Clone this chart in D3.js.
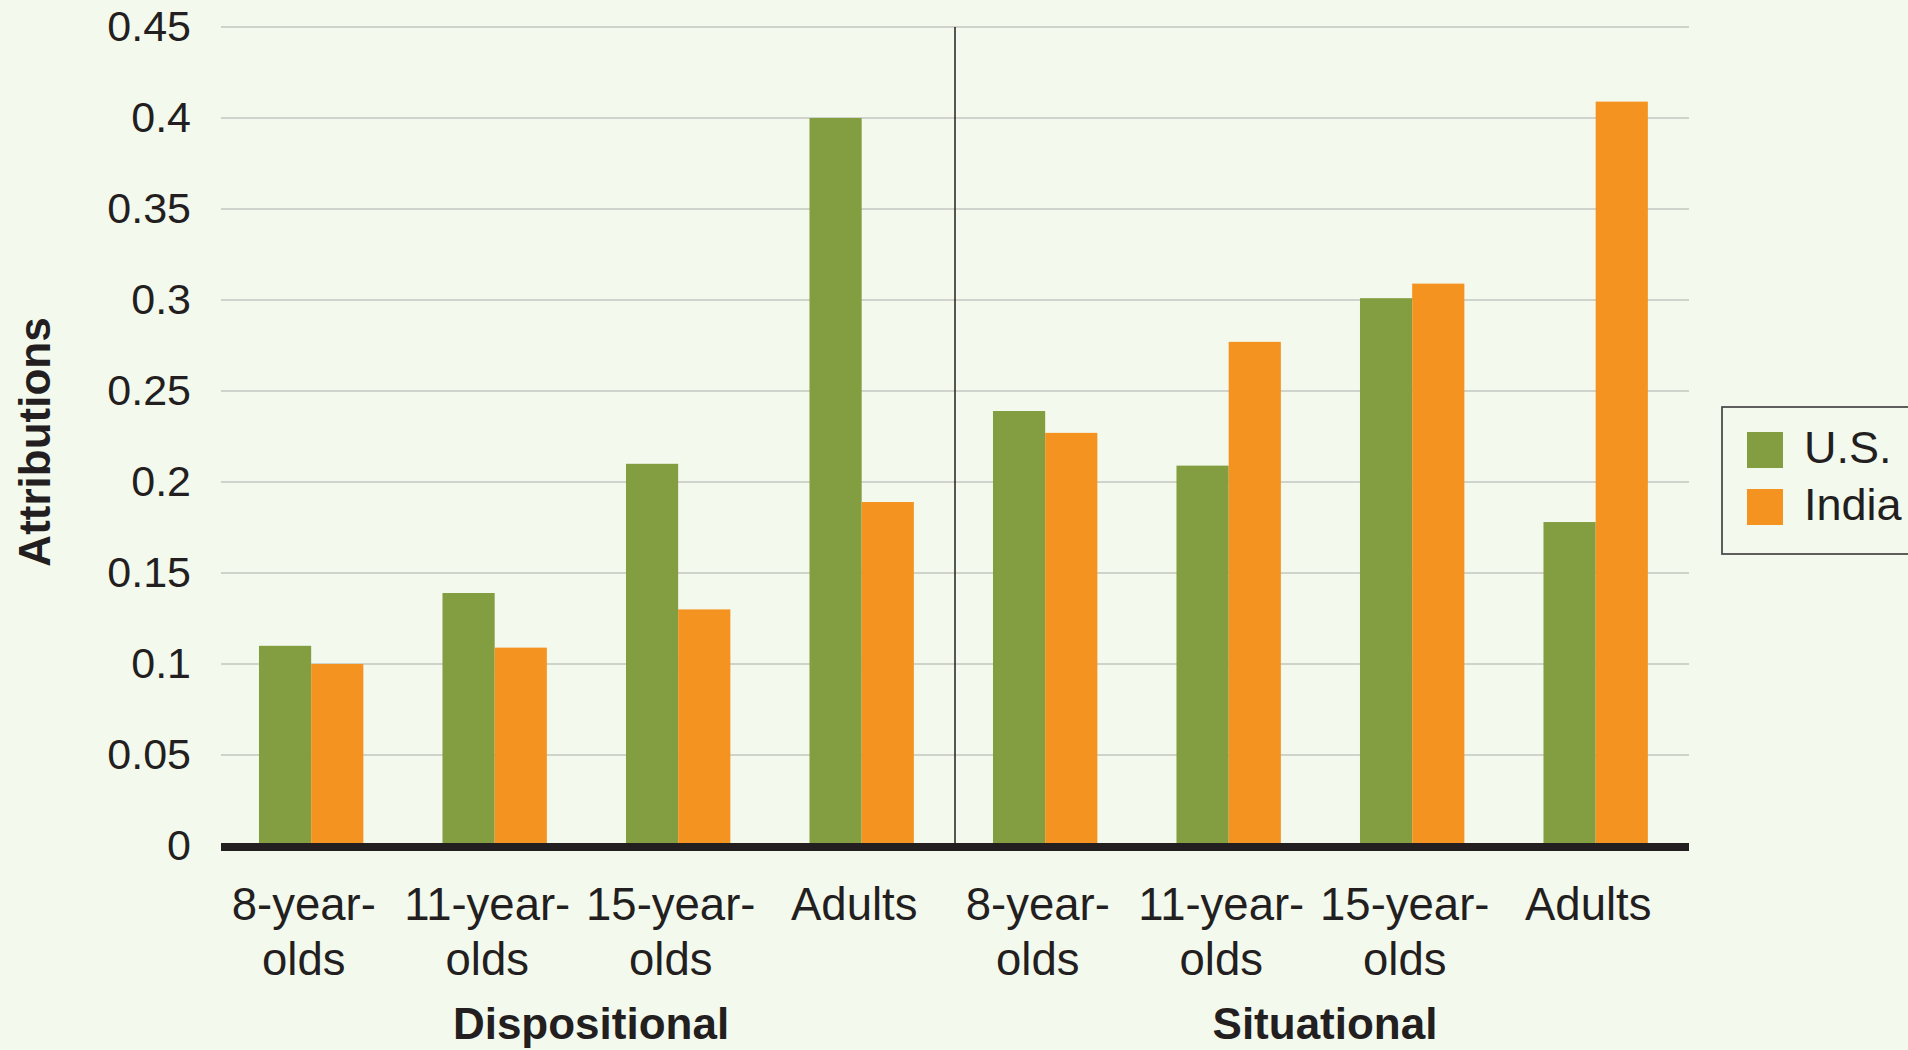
<!DOCTYPE html>
<html><head><meta charset="utf-8">
<script src="https://cdn.jsdelivr.net/npm/d3@7/dist/d3.min.js"></script>
<style>html,body{margin:0;padding:0;background:#f4f9ee;overflow:hidden}
text{font-family:"Liberation Sans",Arial,Helvetica,sans-serif;fill:#231f20}</style>
</head><body><svg id="c" width="1908" height="1050"></svg>
<script>
const categories = ["8-year-olds","11-year-olds","15-year-olds","Adults","8-year-olds","11-year-olds","15-year-olds","Adults"];
const categoryLines = [["8-year-","olds"],["11-year-","olds"],["15-year-","olds"],["Adults"],["8-year-","olds"],["11-year-","olds"],["15-year-","olds"],["Adults"]];
const groups = ["Dispositional","Situational"];
const series = ["U.S.","India"];
const usValues = [0.110,0.139,0.210,0.400,0.239,0.209,0.301,0.178];
const indiaValues = [0.100,0.109,0.130,0.189,0.227,0.277,0.309,0.409];
const yTicks = [0,0.05,0.1,0.15,0.2,0.25,0.3,0.35,0.4,0.45];
const yTickLabels = ["0","0.05","0.1","0.15","0.2","0.25","0.3","0.35","0.4","0.45"];
const colors = ["#829e40","#f59321"];
const yTitle = "Attributions";

const svg = d3.select("#c");
svg.append("rect").attr("width",1908).attr("height",1050).attr("fill","#f4f9ee");
const L = 221, R = 1689, T = 27, B = 846;
const x0 = d3.scaleBand().domain(d3.range(categories.length)).range([L,R]).padding(0);
const x1 = d3.scaleBand().domain(series).range([0,x0.bandwidth()]).paddingInner(0).paddingOuter(0.758).align(0.48);
const y = d3.scaleLinear().domain([0,0.45]).range([B,T]);

// gridlines
svg.append("g").selectAll("line").data(yTicks.filter(d=>d>0)).join("line")
  .attr("x1",L).attr("x2",R).attr("y1",d=>y(d)).attr("y2",d=>y(d))
  .attr("stroke","#d0d2cc").attr("stroke-width",2);

// y axis labels
const ya = svg.append("g").attr("transform",`translate(${L},0)`)
  .call(d3.axisLeft(y).tickValues(yTicks).tickFormat((d,i)=>yTickLabels[i]).tickSize(0).tickPadding(30));
ya.select(".domain").remove();
ya.selectAll("text").style("font-size","43px").style("font-family","'Liberation Sans',Arial,sans-serif").attr("fill","#231f20");

// bars
const data = categories.map((c,i)=>({i, vals:[usValues[i], indiaValues[i]]}));
const gb = svg.append("g").selectAll("g").data(data).join("g")
  .attr("transform",d=>`translate(${x0(d.i)},0)`);
gb.selectAll("rect").data(d=>d.vals.map((v,k)=>({s:series[k],v,k}))).join("rect")
  .attr("x",d=>x1(d.s)).attr("width",x1.bandwidth())
  .attr("y",d=>y(d.v)).attr("height",d=>B-y(d.v))
  .attr("fill",d=>colors[d.k]);

// divider
const mid = x0(4);
svg.append("line").attr("x1",mid).attr("x2",mid).attr("y1",T).attr("y2",B)
  .attr("stroke","#231f20").attr("stroke-width",1.5);

// baseline
svg.append("line").attr("x1",L).attr("x2",R).attr("y1",B+1).attr("y2",B+1)
  .attr("stroke","#231f20").attr("stroke-width",8);

// x labels
const xl = svg.append("g").selectAll("text").data(categoryLines).join("text")
  .attr("text-anchor","middle").style("font-size","45.5px")
  .attr("transform",(d,i)=>`translate(${x0(i)+x0.bandwidth()/2-9},920)`);
xl.selectAll("tspan").data(d=>d).join("tspan").attr("x",0).attr("dy",(d,j)=>j===0?0:55).text(d=>d);

// group labels
svg.append("g").selectAll("text").data(groups).join("text")
  .attr("text-anchor","middle").style("font-size","44px").style("font-weight","bold")
  .attr("x",(d,g)=>(x0(g*4)+x0(g*4+3)+x0.bandwidth())/2+3).attr("y",1039).text(d=>d);

// y title
svg.append("text").attr("transform","translate(50,442) rotate(-90)")
  .attr("text-anchor","middle").style("font-size","44px").style("font-weight","bold").text(yTitle);

// legend
const lg = svg.append("g");
lg.append("rect").attr("x",1722).attr("y",407).attr("width",210).attr("height",147)
  .attr("fill","#f4f9ee").attr("stroke","#444").attr("stroke-width",1.7);
const li = lg.selectAll("g").data(series).join("g").attr("transform",(d,k)=>`translate(1747,${432+k*57})`);
li.append("rect").attr("width",36).attr("height",36).attr("fill",(d,k)=>colors[k]);
li.append("text").attr("x",57).attr("y",31).style("font-size","45px").text(d=>d);
</script></body></html>
